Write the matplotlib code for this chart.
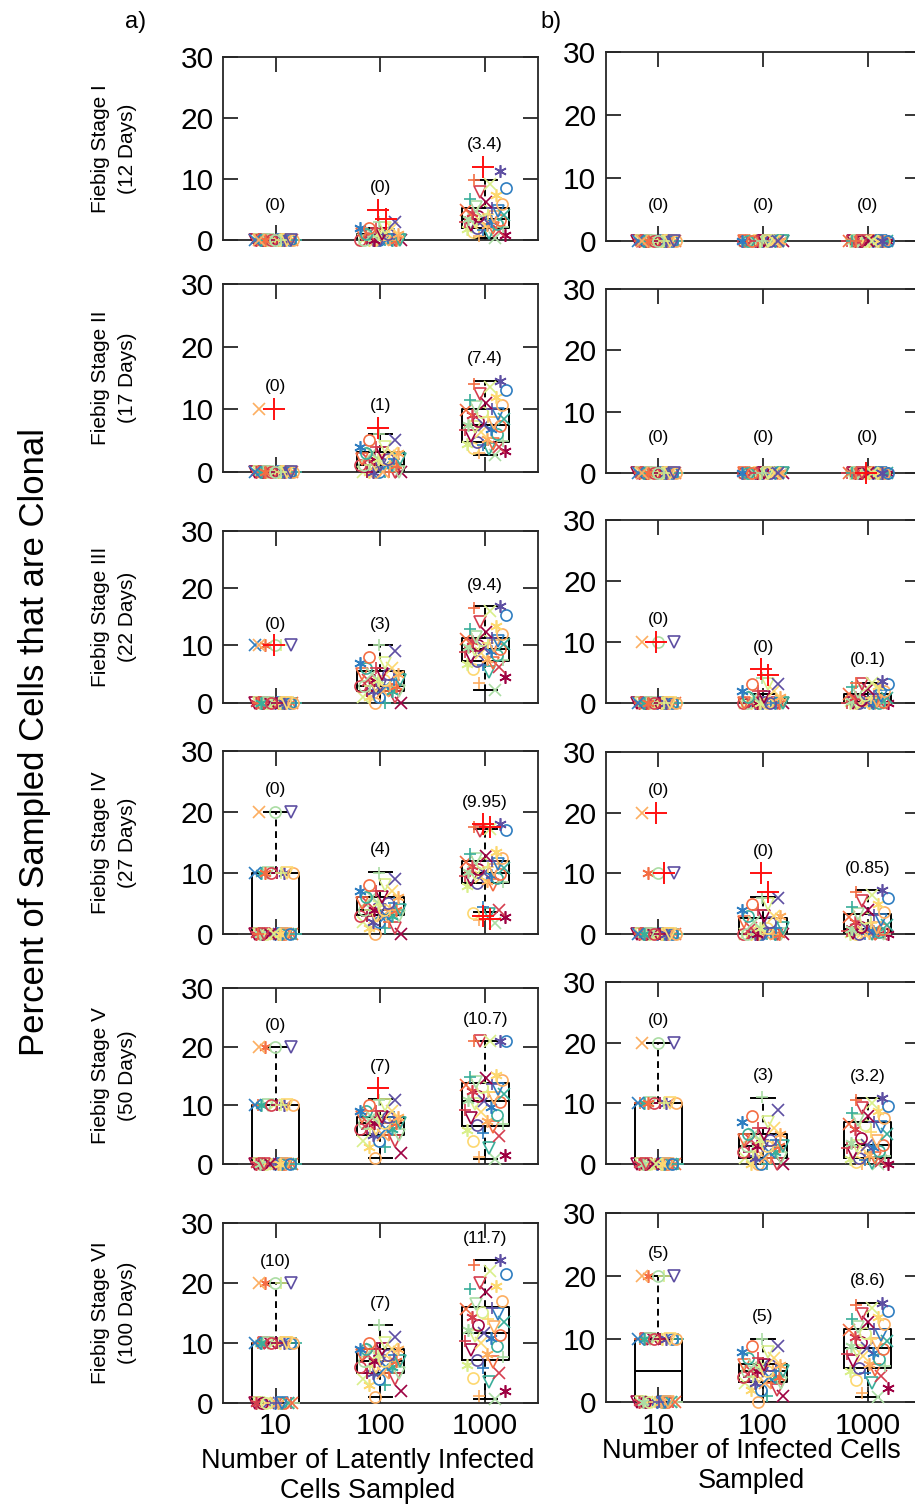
import numpy as np
import matplotlib
matplotlib.use('Agg')
import matplotlib.pyplot as plt

plt.rcParams['font.family'] = ['Liberation Sans', 'DejaVu Sans']

# ---------------- data ----------------
group_labels = ['10', '100', '1000']
stage_names = ['Fiebig Stage I\n(12 Days)', 'Fiebig Stage II\n(17 Days)',
               'Fiebig Stage III\n(22 Days)', 'Fiebig Stage IV\n(27 Days)',
               'Fiebig Stage V\n(50 Days)', 'Fiebig Stage VI\n(100 Days)']

# sample of 10 cells: counts of runs at 0 %, 10 %, 20 %
levels10 = [0, 10, 20]
left_counts10 = [[40, 0, 0], [39, 1, 0], [34, 6, 0], [27, 10, 3], [25, 11, 4], [18, 17, 5]]
right_counts10 = [[40, 0, 0], [40, 0, 0], [37, 3, 0], [35, 4, 1], [26, 11, 3], [20, 15, 5]]

# sample of 100 cells: counts of runs at 0 %, 1 %, 2 %, ...
left_counts100 = [[23, 10, 5, 2],
                  [12, 9, 8, 5, 3, 2, 1],
                  [3, 4, 6, 8, 6, 5, 3, 2, 1, 1, 1],
                  [2, 3, 4, 7, 8, 5, 4, 3, 2, 1, 1],
                  [0, 1, 1, 2, 3, 4, 6, 8, 7, 4, 2, 2],
                  [0, 1, 1, 2, 3, 5, 5, 7, 5, 7, 2, 1, 0, 1]]
right_counts100 = [[40],
                   [40],
                   [29, 4, 3, 3, 1],
                   [22, 5, 3, 4, 2, 2, 2],
                   [6, 5, 6, 7, 5, 4, 2, 2, 1, 1, 0, 1],
                   [1, 2, 3, 5, 7, 8, 6, 3, 2, 2, 1]]

# sample of 1000 cells: percent clonal of each run
left_1000 = [
    [0.3, 0.6, 0.9, 1.1, 1.3, 1.5, 1.7, 1.8, 1.9, 2.0, 2.2, 2.4, 2.5, 2.7, 2.9, 3.0, 3.1, 3.2, 3.3, 3.4,
     3.5, 3.7, 3.9, 4.1, 4.3, 4.5, 4.7, 4.9, 5.0, 5.2, 5.5, 5.9, 6.3, 6.8, 7.4, 7.9, 8.6, 9.2, 9.8, 11.3],
    [2.7, 3.0, 3.3, 3.6, 3.8, 4.0, 4.2, 4.4, 4.5, 4.7, 4.9, 5.3, 5.7, 6.0, 6.3, 6.6, 6.9, 7.1, 7.3, 7.4,
     7.5, 7.8, 8.1, 8.4, 8.7, 9.0, 9.3, 9.6, 9.8, 10.0, 10.3, 10.7, 11.0, 11.5, 12.0, 12.4, 13.0, 13.5, 14.0, 14.5],
    [2.2, 3.5, 4.5, 5.3, 5.9, 6.3, 6.6, 6.8, 7.0, 7.2, 7.4, 7.7, 8.0, 8.3, 8.6, 8.8, 9.0, 9.2, 9.4, 9.5,
     9.7, 9.9, 10.1, 10.3, 10.5, 10.7, 10.8, 11.0, 11.1, 11.2, 11.5, 11.9, 12.3, 12.8, 13.3, 14.0, 15.3, 16.0, 16.5, 16.9],
    [1.8, 2.3, 2.8, 3.2, 3.5, 4.0, 4.5, 7.9, 8.1, 8.3, 8.5, 8.7, 8.9, 9.1, 9.3, 9.5, 9.7, 9.8, 9.9, 10.0,
     10.2, 10.4, 10.6, 10.8, 11.0, 11.2, 11.4, 11.6, 11.8, 11.9, 12.2, 12.5, 12.8, 13.1, 13.4, 16.8, 17.0, 17.2, 17.5, 18.0],
    [0.9, 1.2, 1.5, 2.8, 4.0, 4.8, 5.4, 5.9, 6.3, 6.6, 6.9, 7.3, 7.8, 8.3, 8.8, 9.3, 9.8, 10.2, 10.5, 10.7,
     11.0, 11.3, 11.6, 11.9, 12.2, 12.5, 12.8, 13.1, 13.4, 13.7, 14.0, 14.3, 14.6, 14.9, 15.2, 21.0, 21.0, 21.0, 21.0, 21.0],
    [0.7, 1.2, 2.0, 3.5, 4.2, 5.0, 5.8, 6.3, 6.8, 7.1, 7.6, 8.2, 8.8, 9.4, 9.9, 10.4, 10.8, 11.1, 11.4, 11.7,
     12.1, 12.6, 13.0, 13.5, 14.0, 14.4, 14.8, 15.2, 15.6, 15.9, 16.5, 17.0, 18.5, 19.0, 19.5, 20.0, 21.5, 22.0, 23.0, 23.9],
]
right_1000 = [
    [0.0] * 40,
    [0.0] * 40,
    [0.0] * 18 + [0.1, 0.1, 0.2, 0.3, 0.5, 0.7, 0.8, 1.0, 1.1, 1.3, 1.4, 1.5, 1.8, 2.0, 2.3, 2.5, 2.8, 3.0,
                  3.1, 3.2, 3.3, 3.5],
    [0.0] * 10 + [0.1, 0.2, 0.2, 0.3, 0.4, 0.5, 0.6, 0.7, 0.8, 0.85, 0.9, 1.0, 1.2, 1.5, 1.8, 2.0, 2.3, 2.6,
                  2.9, 3.1, 3.3, 3.6, 4.0, 4.5, 5.0, 5.5, 6.0, 6.5, 7.0, 7.2],
    [0.0, 0.0, 0.1, 0.2, 0.3, 0.5, 0.7, 0.8, 1.0, 1.1, 1.3, 1.6, 1.9, 2.2, 2.5, 2.7, 2.9, 3.0, 3.1, 3.2,
     3.5, 3.9, 4.4, 4.9, 5.3, 5.8, 6.2, 6.5, 6.7, 6.9, 7.2, 7.6, 8.0, 8.4, 8.8, 9.2, 9.6, 10.0, 10.5, 10.9],
    [0.9, 1.5, 2.2, 3.0, 3.6, 4.2, 4.6, 5.0, 5.2, 5.4, 5.7, 6.1, 6.5, 6.9, 7.3, 7.6, 7.9, 8.2, 8.4, 8.6,
     8.9, 9.2, 9.5, 9.8, 10.1, 10.4, 10.7, 11.0, 11.4, 11.7, 12.0, 12.4, 12.8, 13.2, 13.6, 14.0, 14.5, 15.0, 15.4, 15.7],
]

# highlighted run (large red plus)
left_red = [[[], [5, 3.5], [12]], [[10], [7], []], [[10], [], []],
            [[], [], [18, 17.5, 3, 2.5]], [[], [13], []], [[], [], []]]
right_red = [[[], [], []], [[], [], [0]], [[10], [5.5, 4.5], []],
             [[20, 10], [10, 7], []], [[], [], []], [[], [], []]]

# box statistics (per row, per group)
left_med = [[0, 0, 3.4], [0, 1, 7.4], [0, 3, 9.4], [0, 4, 9.95], [0, 7, 10.7], [10, 7, 11.7]]
left_q1 = [[0, 0, 2.0], [0, 0, 4.7], [0, 2.0, 7.2], [0, 3.06, 8.3], [0, 5.0, 6.55], [0, 5.0, 7.15]]
left_q3 = [[0, 1, 5.2], [0, 3.1, 10.0], [0, 5.5, 11.2], [10, 6.1, 11.95], [10, 8.1, 13.75], [10, 9.0, 15.95]]
left_wlo = [[0, 0, 0.3], [0, 0, 2.7], [0, 0, 2.2], [0, 0, 3.55], [0, 1.0, 0.9], [0, 1.0, 0.7]]
left_whi = [[0, 2, 9.8], [0, 6.1, 14.5], [0, 10.1, 16.9], [20, 10.2, 17.2], [20, 11.1, 21.0], [20, 13.0, 23.9]]

right_med = [[0, 0, 0], [0, 0, 0], [0, 0, 0.1], [0, 0, 0.85], [0, 3, 3.2], [5, 5, 8.6]]
right_q1 = [[0, 0, 0], [0, 0, 0], [0, 0, 0], [0, 0, 0.15], [0, 1.0, 1.1], [0, 3.2, 5.4]]
right_q3 = [[0, 0, 0], [0, 0, 0], [0, 0.55, 1.4], [0, 2.6, 3.3], [10, 5.0, 6.9], [10, 6.1, 11.7]]
right_wlo = [[0, 0, 0], [0, 0, 0], [0, 0, 0], [0, 0, 0], [0, 0, 0], [0, 0, 0.9]]
right_whi = [[0, 0, 0], [0, 0, 0], [0, 1.4, 3.3], [0, 6.2, 7.2], [20, 10.9, 10.9], [20, 10.0, 15.7]]

# ---------------- style ----------------
palette = ['#9E0142', '#D53E4F', '#F46D43', '#FDAE61', '#FDD870',
           '#D9EF8B', '#ABDDA4', '#3AAE9A', '#2F7EC1', '#5E4FA2']
markers = ['v', 'o', 'x', '+', (6, 2, 0)]
msizes = [9, 8, 8, 9, 9]

W, H = 915.0, 1506.0
fig = plt.figure(figsize=(9.15, 15.06), dpi=100)

left_rows = [(57.3, 240), (284, 471.7), (530.7, 702.7), (750.7, 934), (987.7, 1164.3), (1223.3, 1402.7)]
right_rows = [(51.7, 241), (289.3, 472.7), (520, 702.7), (751.7, 934.3), (981.7, 1164.3), (1213.3, 1402.3)]
left_x = (223.3, 537.6)
right_x = (606.0, 920.0)

edge = '#262626'


def draw_panel(ax, groups, reds, med, q1, q3, wlo, whi, bottom):
    ax.set_xlim(0.5, 3.5)
    ax.set_ylim(0, 30)
    stats = []
    for g in range(3):
        stats.append(dict(med=med[g], q1=q1[g], q3=q3[g], whislo=wlo[g], whishi=whi[g], fliers=[]))
    ax.bxp(stats, positions=[1, 2, 3], widths=0.45, capwidths=0.22, showfliers=False,
           manage_ticks=False,
           boxprops=dict(color='k', lw=1.4),
           whiskerprops=dict(color='k', lw=1.4, ls=(0, (3.5, 2.5))),
           capprops=dict(color='k', lw=1.4),
           medianprops=dict(color='k', lw=1.4))
    for g in range(3):
        vals = groups[g]
        for i, v in enumerate(vals):
            x = g + 1 + 0.2 * (2 * ((i * 0.618034 + 0.37 * g) % 1.0) - 1)
            mi = (i + i // 10 + g) % 5
            ci = (7 * i + 3 * g) % 10
            ax.plot(x, v, ls='none', marker=markers[mi], ms=msizes[mi], mew=1.2,
                    mfc='none', mec=palette[ci], color=palette[ci], clip_on=False, zorder=3)
        for j, v in enumerate(reds[g]):
            x = g + 1 + (0.05 if j % 2 else -0.02)
            ax.plot(x, v, ls='none', marker='+', ms=16, mew=1.4, color='#FF1010',
                    clip_on=False, zorder=4)
        top = max(max(vals) if len(vals) else 0, max(reds[g]) if reds[g] else 0, whi[g])
        ax.text(g + 1, max(top + 3.6, 5.7), '({:g})'.format(med[g]), ha='center', va='center',
                fontsize=12.5, color='k')
    ax.set_xticks([1, 2, 3])
    ax.set_yticks([0, 10, 20, 30])
    ax.tick_params(direction='in', length=11, width=1.3, top=True, right=True,
                   labelsize=21.5, pad=7, color=edge, labelcolor='k')
    if bottom:
        ax.set_xticklabels(group_labels)
    else:
        ax.set_xticklabels([])
    for s in ax.spines.values():
        s.set_linewidth(1.3)
        s.set_color(edge)


for col in range(2):
    rows = left_rows if col == 0 else right_rows
    xs = left_x if col == 0 else right_x
    counts10 = left_counts10 if col == 0 else right_counts10
    counts100 = left_counts100 if col == 0 else right_counts100
    d1000 = left_1000 if col == 0 else right_1000
    reds = left_red if col == 0 else right_red
    med = left_med if col == 0 else right_med
    q1 = left_q1 if col == 0 else right_q1
    q3 = left_q3 if col == 0 else right_q3
    wlo = left_wlo if col == 0 else right_wlo
    whi = left_whi if col == 0 else right_whi
    for r in range(6):
        top, bot = rows[r]
        ax = fig.add_axes([xs[0] / W, 1 - bot / H, (xs[1] - xs[0]) / W, (bot - top) / H])
        g10 = np.repeat(levels10, counts10[r])
        g100 = np.repeat(np.arange(len(counts100[r])), counts100[r]).astype(float)
        g1000 = np.array(d1000[r])
        draw_panel(ax, [g10, g100, g1000], reds[r], med[r], q1[r], q3[r], wlo[r], whi[r], r == 5)
        if col == 0:
            fig.text(114 / W, 1 - (top + bot) / 2 / H, stage_names[r], rotation=90,
                     ha='center', va='center', fontsize=15, linespacing=1.5,
                     multialignment='center')

fig.text(35 / W, 1 - 742 / H, 'Percent of Sampled Cells that are Clonal', rotation=90,
         ha='center', va='center', fontsize=25)
fig.text(368 / W, 1 - 1476 / H, 'Number of Latently Infected\nCells Sampled',
         ha='center', va='center', fontsize=19.5, linespacing=1.2)
fig.text(751 / W, 1 - 1466 / H, 'Number of Infected Cells\nSampled',
         ha='center', va='center', fontsize=19.5, linespacing=1.25)
fig.text(136 / W, 1 - 22 / H, 'a)', ha='center', va='center', fontsize=17)
fig.text(551 / W, 1 - 22 / H, 'b)', ha='center', va='center', fontsize=17)

fig.savefig('out.png', dpi=100)
